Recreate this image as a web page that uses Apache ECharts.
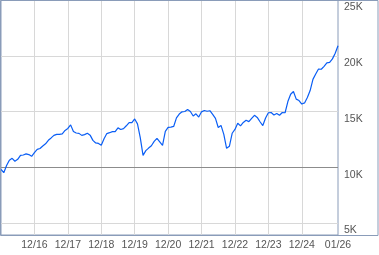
<!DOCTYPE html>
<html>
<head>
<meta charset="utf-8">
<script src="https://cdn.jsdelivr.net/npm/echarts@6/dist/echarts.min.js"></script>
<style>
html,body{margin:0;padding:0;background:#fff;}
#c{width:379px;height:255px;}
</style>
</head>
<body>
<div id="c"></div>
<script>
const categories = [
  '12/15',
  '01/16','02/16','03/16','04/16','05/16','06/16','07/16','08/16','09/16','10/16','11/16','12/16',
  '01/17','02/17','03/17','04/17','05/17','06/17','07/17','08/17','09/17','10/17','11/17','12/17',
  '01/18','02/18','03/18','04/18','05/18','06/18','07/18','08/18','09/18','10/18','11/18','12/18',
  '01/19','02/19','03/19','04/19','05/19','06/19','07/19','08/19','09/19','10/19','11/19','12/19',
  '01/20','02/20','03/20','04/20','05/20','06/20','07/20','08/20','09/20','10/20','11/20','12/20',
  '01/21','02/21','03/21','04/21','05/21','06/21','07/21','08/21','09/21','10/21','11/21','12/21',
  '01/22','02/22','03/22','04/22','05/22','06/22','07/22','08/22','09/22','10/22','11/22','12/22',
  '01/23','02/23','03/23','04/23','05/23','06/23','07/23','08/23','09/23','10/23','11/23','12/23',
  '01/24','02/24','03/24','04/24','05/24','06/24','07/24','08/24','09/24','10/24','11/24','12/24',
  '01/25','02/25','03/25','04/25','05/25','06/25','07/25','08/25','09/25','10/25','11/25','12/25',
  '01/26'
];
const values = [
  9820,
  9510,10150,10630,10800,10540,10710,11070,11100,11200,11140,10980,11310,
  11600,11680,11910,12100,12420,12630,12860,12950,12950,13000,13300,13480,
  13800,13210,13070,13040,12860,12930,13050,12880,12410,12180,12140,11970,
  12560,13020,13100,13190,13190,13530,13390,13470,13720,14000,14000,14330,
  13890,12660,11070,11490,11720,11930,12320,12590,12280,11970,13210,13570,
  13600,13660,14430,14770,14970,15000,15180,15000,14600,14790,14500,14970,
  15090,15020,15070,14750,14380,13570,13750,12950,11700,11880,13050,13390,
  13950,13710,14020,14220,14090,14380,14660,14470,14080,13740,14420,14890,
  14910,14690,14820,14660,14910,14890,15890,16550,16790,16110,15980,15670,
  15770,16250,16880,17880,18360,18810,18790,19050,19360,19400,19720,20230,
  20890
];
const xTickLabels = ['12/16','12/17','12/18','12/19','12/20','12/21','12/22','12/23','12/24','01/26'];
const xGridLabels = ['12/16','12/17','12/18','12/19','12/20','12/21','12/22','12/23','12/24'];
const yTicks = [5000,10000,15000,20000,25000];
const baseline = 10000;
const yMin = 3925, yMax = 25000;

const frameColor = '#8a9cb9';
const chart = echarts.init(document.getElementById('c'), null, {renderer:'canvas'});
chart.setOption({
  animation:false,
  backgroundColor:'#ffffff',
  graphic:[{
    type:'rect', z:100, silent:true,
    shape:{x:0.5,y:0.5,width:377.5,height:235},
    style:{fill:'none',stroke:frameColor,lineWidth:1}
  }],
  grid:{left:1,top:0,right:41,bottom:20,show:true,borderColor:frameColor,borderWidth:1,backgroundColor:'transparent'},
  xAxis:{
    type:'category',
    data:categories,
    boundaryGap:false,
    axisLine:{show:false},
    axisTick:{show:false},
    axisLabel:{
      interval:function(i,v){return xTickLabels.indexOf(v)>=0;},
      color:'#555', fontSize:10.5, fontFamily:'Liberation Sans, Arial, sans-serif', margin:5
    },
    splitLine:{
      show:true,
      interval:function(i,v){return xGridLabels.indexOf(v)>=0;},
      lineStyle:{color:'#d8d8d8',width:1}
    }
  },
  yAxis:{
    type:'value',
    position:'right',
    min:yMin, max:yMax,
    minInterval:5000, maxInterval:5000,
    axisLine:{show:false},
    axisTick:{show:false},
    axisLabel:{
      showMinLabel:false,
      formatter:function(v){return yTicks.indexOf(v)>=0 ? (v/1000)+'K' : '';},
      verticalAlign:'top',
      align:'left',
      margin:6,
      color:'#555', fontSize:10.5, fontFamily:'Liberation Sans, Arial, sans-serif',
      padding:[2,0,0,0]
    },
    splitLine:{show:true,lineStyle:{color:'#d8d8d8',width:1}}
  },
  series:[{
    type:'line',
    data:values,
    showSymbol:false,
    symbol:'none',
    lineStyle:{color:'#0a5ef5',width:1.2},
    z:5,
    markLine:{
      silent:true,
      symbol:'none',
      label:{show:false},
      lineStyle:{color:'#8c8c8c',width:1,type:'solid'},
      data:[{yAxis:baseline}],
      z:3
    }
  }]
});
</script>
</body>
</html>
